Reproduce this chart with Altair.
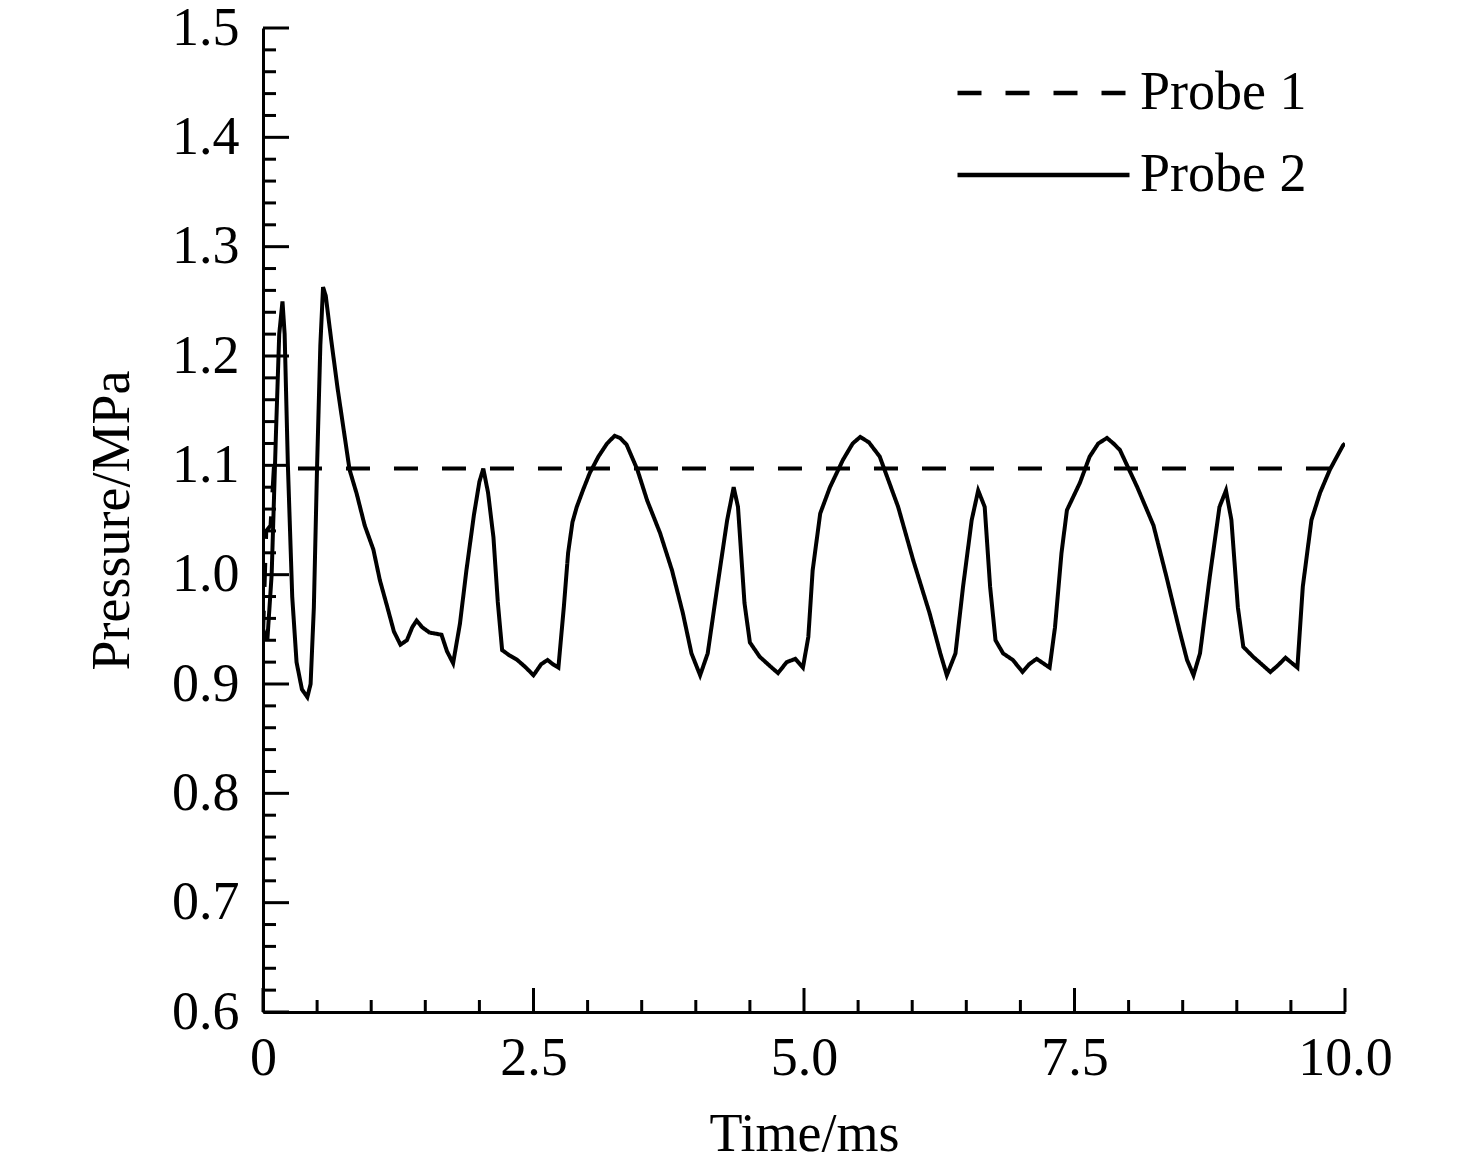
import altair as alt
import pandas as pd

# ---- data ----
series_names = ["Probe 1", "Probe 2"]

time1 = [0.0, 0.03, 0.07, 0.10, 10.0]
pressure1 = [0.945, 1.04, 1.045, 1.097, 1.097]

time2 = [0.00, 0.04, 0.08, 0.12, 0.15, 0.18, 0.20, 0.23, 0.27, 0.31, 0.36, 0.41,
         0.44, 0.47, 0.50, 0.53, 0.555, 0.58, 0.63, 0.69, 0.742, 0.80, 0.866, 0.94,
         1.02, 1.08, 1.15, 1.21, 1.27, 1.33, 1.38, 1.42, 1.47, 1.54, 1.60, 1.65,
         1.70, 1.757, 1.82, 1.88, 1.95, 2.00, 2.036, 2.08, 2.13, 2.17, 2.21, 2.28,
         2.35, 2.43, 2.50, 2.57, 2.63, 2.68, 2.73, 2.78, 2.82, 2.86, 2.90, 2.96,
         3.02, 3.10, 3.18, 3.25, 3.30, 3.36, 3.46, 3.55, 3.67, 3.78, 3.88, 3.96,
         4.04, 4.11, 4.19, 4.29, 4.35, 4.39, 4.45, 4.50, 4.59, 4.69, 4.76, 4.84,
         4.92, 4.99, 5.04, 5.08, 5.15, 5.24, 5.36, 5.45, 5.52, 5.60, 5.70, 5.77,
         5.87, 6.01, 6.16, 6.26, 6.32, 6.40, 6.47, 6.55, 6.61, 6.67, 6.72, 6.77,
         6.84, 6.93, 7.02, 7.08, 7.15, 7.27, 7.32, 7.38, 7.43, 7.55, 7.64, 7.72,
         7.80, 7.86, 7.92, 8.08, 8.23, 8.35, 8.47, 8.54, 8.60, 8.66, 8.75, 8.84,
         8.90, 8.95, 9.01, 9.06, 9.15, 9.31, 9.38, 9.45, 9.56, 9.61, 9.69, 9.77,
         9.86, 9.98, 10.0]
pressure2 = [0.95, 0.94, 1.00, 1.13, 1.22, 1.25, 1.22, 1.10, 0.98, 0.92, 0.895, 0.888,
             0.90, 0.97, 1.10, 1.21, 1.263, 1.255, 1.215, 1.17, 1.135, 1.096, 1.074, 1.045,
             1.023, 0.995, 0.970, 0.948, 0.936, 0.940, 0.952, 0.958, 0.952, 0.947, 0.946, 0.945,
             0.930, 0.919, 0.955, 1.004, 1.055, 1.085, 1.097, 1.075, 1.034, 0.975, 0.931, 0.926,
             0.922, 0.915, 0.908, 0.918, 0.922, 0.918, 0.915, 0.970, 1.020, 1.048, 1.062, 1.078,
             1.093, 1.108, 1.120, 1.127, 1.125, 1.119, 1.096, 1.068, 1.038, 1.004, 0.965, 0.928,
             0.908, 0.928, 0.983, 1.050, 1.080, 1.062, 0.974, 0.938, 0.925, 0.916, 0.910, 0.920,
             0.923, 0.915, 0.943, 1.004, 1.056, 1.080, 1.105, 1.120, 1.126, 1.121, 1.108, 1.089,
             1.062, 1.013, 0.965, 0.928, 0.908, 0.928, 0.989, 1.050, 1.077, 1.062, 0.989, 0.940,
             0.928, 0.922, 0.911, 0.918, 0.923, 0.915, 0.952, 1.020, 1.059, 1.084, 1.108, 1.120,
             1.125, 1.120, 1.114, 1.080, 1.045, 0.998, 0.949, 0.922, 0.908, 0.928, 0.998, 1.062,
             1.077, 1.050, 0.970, 0.934, 0.925, 0.911, 0.917, 0.924, 0.915, 0.989, 1.050, 1.075,
             1.096, 1.118, 1.120]

x_major = [0, 2.5, 5.0, 7.5, 10.0]
x_minor = [0.5, 1.0, 1.5, 2.0, 3.0, 3.5, 4.0, 4.5, 5.5, 6.0, 6.5, 7.0, 8.0, 8.5, 9.0, 9.5]
y_major = [0.6, 0.7, 0.8, 0.9, 1.0, 1.1, 1.2, 1.3, 1.4, 1.5]
y_minor = [round(0.6 + 0.02 * i, 2) for i in range(46) if i % 5 != 0]

# ---- tables ----
df = pd.concat([
    pd.DataFrame({"time": time1, "pressure": pressure1, "series": series_names[0]}),
    pd.DataFrame({"time": time2, "pressure": pressure2, "series": series_names[1]}),
], ignore_index=True)

W, H = 1082, 984
FONT = "Liberation Serif"

xscale = alt.Scale(domain=[0, 10], nice=False, zero=False)
yscale = alt.Scale(domain=[0.6, 1.5], nice=False, zero=False)

label_expr = "datum.value == 0 ? '0' : format(datum.value, '.1f')"

x_axis = alt.Axis(title="Time/ms", values=x_major, labelExpr=label_expr,
                  ticks=False, tickSize=0, grid=False, labelPadding=19,
                  labelFlush=False, labelOverlap=False, labelBound=False,
                  domainColor="black", domainWidth=3,
                  labelFont=FONT, labelFontSize=54, labelColor="black",
                  titleFont=FONT, titleFontSize=54, titleFontWeight="normal",
                  titleColor="black", titleY=138, titleBaseline="alphabetic",
                  titleX=W / 2)
y_axis = alt.Axis(title="Pressure/MPa", values=y_major, format=".1f",
                  ticks=False, tickSize=0, grid=False, labelPadding=24,
                  labelFlush=False, labelOverlap=False, labelBound=False,
                  domainColor="black", domainWidth=3,
                  labelFont=FONT, labelFontSize=54, labelColor="black",
                  titleFont=FONT, titleFontSize=54, titleFontWeight="normal",
                  titleColor="black", titleX=-135, titleY=H / 2,
                  titleAngle=-90, titleAlign="center",
                  titleBaseline="alphabetic")

lines = alt.Chart(df).mark_line(color="black", strokeWidth=4, clip=True).encode(
    x=alt.X("time:Q", scale=xscale, axis=x_axis),
    y=alt.Y("pressure:Q", scale=yscale, axis=y_axis),
    strokeDash=alt.StrokeDash(
        "series:N",
        scale=alt.Scale(domain=series_names, range=[[24, 24], [1, 0]]),
        legend=alt.Legend(title=None, orient="none", legendX=692, legendY=38,
                          symbolType="stroke", symbolSize=172 * 172,
                          symbolStrokeWidth=4.5, symbolStrokeColor="black",
                          clipHeight=54,
                          labelFont=FONT, labelFontSize=54, labelColor="black",
                          labelLimit=500, labelOffset=8, rowPadding=28, padding=0),
    ),
)

yt_major = alt.Chart(pd.DataFrame({"pressure": y_major})).mark_rule(color="black", strokeWidth=3).encode(
    y=alt.Y("pressure:Q", scale=yscale, axis=y_axis), x=alt.value(0), x2=alt.value(26))
yt_minor = alt.Chart(pd.DataFrame({"pressure": y_minor})).mark_rule(color="black", strokeWidth=3).encode(
    y=alt.Y("pressure:Q", scale=yscale, axis=y_axis), x=alt.value(0), x2=alt.value(13))
xt_major = alt.Chart(pd.DataFrame({"time": x_major})).mark_rule(color="black", strokeWidth=3).encode(
    x=alt.X("time:Q", scale=xscale, axis=x_axis), y=alt.value(H), y2=alt.value(H - 24))
xt_minor = alt.Chart(pd.DataFrame({"time": x_minor})).mark_rule(color="black", strokeWidth=3).encode(
    x=alt.X("time:Q", scale=xscale, axis=x_axis), y=alt.value(H), y2=alt.value(H - 12))

chart = alt.layer(lines, yt_major, yt_minor, xt_major, xt_minor).properties(
    width=W, height=H, autosize="none", background="white",
    padding={"left": 255, "top": 20, "right": 80, "bottom": 150},
).configure_view(stroke=None)

chart.save("out.html", embed_options={"renderer": "svg", "actions": False})
